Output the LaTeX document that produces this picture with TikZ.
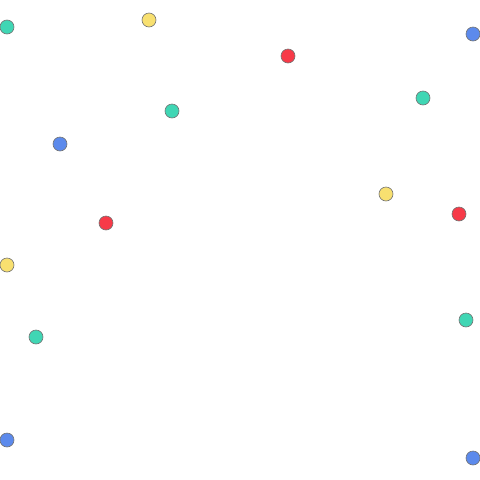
\documentclass[tikz,border=0pt]{standalone}
\usepackage{tikz}
\usepackage{xcolor}

\definecolor{dotteal}{HTML}{40D6B4}
\definecolor{dotyellow}{HTML}{F8E070}
\definecolor{dotblue}{HTML}{5C8AEC}
\definecolor{dotred}{HTML}{F73A48}

\begin{document}
\begin{tikzpicture}[x=1pt,y=-1pt,
    dot/.style={circle,draw=black!55,line width=0.6pt,minimum size=14pt,inner sep=0pt}]
        \useasboundingbox (0,0) rectangle (480,480);

        \coordinate (P1)  at (7,27);
        \coordinate (P2)  at (149,20);
        \coordinate (P3)  at (473,34);
        \coordinate (P4)  at (288,56);
        \coordinate (P5)  at (423,98);
        \coordinate (P6)  at (172,111);
        \coordinate (P7)  at (60,144);
        \coordinate (P8)  at (386,194);
        \coordinate (P9)  at (459,214);
        \coordinate (P10) at (106,223);
        \coordinate (P11) at (7,265);
        \coordinate (P12) at (466,320);
        \coordinate (P13) at (36,337);
        \coordinate (P14) at (7,440);
        \coordinate (P15) at (473,458);

        \node[dot,fill=dotteal]   (teal1)   at (P1)  {};
        \node[dot,fill=dotyellow] (yellow1) at (P2)  {};
        \node[dot,fill=dotblue]   (blue1)   at (P3)  {};
        \node[dot,fill=dotred]    (red1)    at (P4)  {};
        \node[dot,fill=dotteal]   (teal2)   at (P5)  {};
        \node[dot,fill=dotteal]   (teal3)   at (P6)  {};
        \node[dot,fill=dotblue]   (blue2)   at (P7)  {};
        \node[dot,fill=dotyellow] (yellow2) at (P8)  {};
        \node[dot,fill=dotred]    (red2)    at (P9)  {};
        \node[dot,fill=dotred]    (red3)    at (P10) {};
        \node[dot,fill=dotyellow] (yellow3) at (P11) {};
        \node[dot,fill=dotteal]   (teal4)   at (P12) {};
        \node[dot,fill=dotteal]   (teal5)   at (P13) {};
        \node[dot,fill=dotblue]   (blue3)   at (P14) {};
        \node[dot,fill=dotblue]   (blue4)   at (P15) {};
    \end{tikzpicture}
\end{document}
